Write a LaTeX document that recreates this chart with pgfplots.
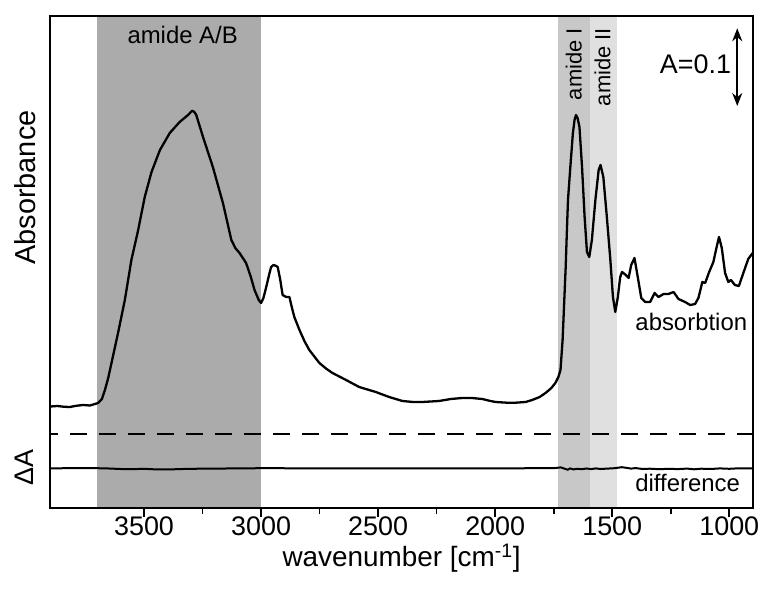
\documentclass[border=0pt]{standalone}
\usepackage{fontspec}
\setmainfont{Liberation Sans}
\usepackage{pgfplots}
\pgfplotsset{compat=1.18}
\usetikzlibrary{arrows.meta}
\definecolor{shadeAB}{gray}{0.671}
\definecolor{shadeI}{gray}{0.784}
\definecolor{shadeII}{gray}{0.878}

\begin{document}
\begin{tikzpicture}
\path[use as bounding box] (-50.4bp,-87bp) rectangle (715.6bp,508bp);
\begin{axis}[
  at={(0,0)}, anchor=south west,
  scale only axis, width=702.3bp, height=492bp,
  xmin=900, xmax=3900, x dir=reverse,
  ymin=0, ymax=492,
  xtick={1000,1500,2000,2500,3000,3500},
  minor x tick num=1,
  xtick pos=left, ytick=\empty,
  tick align=outside,
  major tick length=9bp, minor tick length=6bp,
  axis line style={line width=2bp},
  tick style={line width=1.6bp, black},
  axis on top,
  /pgf/number format/assume math mode=true,
  /pgf/number format/1000 sep={},
  xticklabel style={font=\fontsize{27}{30}\selectfont, yshift=4bp},
  xlabel={wavenumber [cm\textsuperscript{-1}]},
  xlabel style={font=\fontsize{28}{30}\selectfont, yshift=-2bp},
]
% shaded regions
\addplot[draw=none, fill=shadeAB] coordinates {(3700,0) (3700,492) (3000,492) (3000,0)} -- cycle;
\addplot[draw=none, fill=shadeI] coordinates {(1730,0) (1730,492) (1595,492) (1595,0)} -- cycle;
\addplot[draw=none, fill=shadeII] coordinates {(1595,0) (1595,492) (1480,492) (1480,0)} -- cycle;

% dashed separator
\addplot[black, line width=2bp, dash pattern=on 17bp off 12bp, dash phase=9bp] coordinates {(3900,73.7) (900,73.7)};

% difference spectrum
\addplot[black, line width=2bp] coordinates {
(3900,39.7) (3800,39.8) (3700,39.8) (3650,39.5) (3600,39.0) (3550,38.8) (3500,39.2) (3450,38.6) (3400,38.5) (3350,38.9) (3300,39.2) (3200,39.4) (3100,39.6) (3000,39.8) (2800,39.7) (2500,39.7) (2000,39.7) (1750,39.8) (1720,40.6) (1700,39.0) (1690,38.3) (1680,39.6) (1665,38.6) (1650,39.2) (1630,38.8) (1610,39.5) (1590,38.9) (1570,39.6) (1550,39.0) (1520,39.4) (1490,39.8) (1460,40.8) (1440,40.2) (1420,39.4) (1400,39.9) (1370,39.0) (1340,39.3) (1300,38.8) (1260,39.2) (1220,38.9) (1180,39.4) (1150,38.7) (1120,39.3) (1080,39.0) (1040,39.6) (1000,39.2) (960,39.7) (900,39.7)
};

% absorption spectrum
\addplot[black, line width=2.3bp, line join=round] coordinates {
(3900,101.5) (3870,102.0) (3840,101.2) (3816,101.0) (3790,102.2) (3761,103.0) (3731,102.5) (3710,104.0) (3696,105.0) (3680,109) (3667,118) (3653,130) (3639,145) (3611,175) (3582,208) (3554,248) (3525,278) (3497,311) (3468,336) (3432,358) (3390,375) (3348,386) (3312,393) (3300,396) (3294,397.3) (3285,396) (3277,393) (3248,371) (3206,341) (3163,305) (3127,268) (3110,260) (3092,255) (3064,245) (3045,232) (3028,218) (3010,208) (3000,205) (2990,210) (2978,221) (2965,234) (2957,241) (2947,243) (2935,242) (2929,241) (2918,228) (2908,213) (2893,211) (2879,211) (2870,202) (2858,191) (2836,178) (2815,167) (2794,158) (2751,145) (2720,139) (2695,135) (2637,128) (2581,121) (2510,116) (2453,111) (2396,107) (2350,106) (2311,106) (2240,107) (2190,109) (2141,110) (2100,110) (2055,109) (2020,107) (1998,106) (1950,105.3) (1913,105.3) (1870,106) (1842,108) (1810,111) (1785,115) (1760,120) (1743,125) (1730,131) (1721,138) (1712,168) (1703,218) (1699,240) (1694,275) (1689,308) (1679,341) (1668,375) (1661,388) (1655,393) (1648,390) (1640,381) (1629,341) (1618,291) (1608,256) (1598,251) (1587,268) (1572,308) (1558,338) (1550,343) (1538,331) (1523,291) (1508,248) (1497,211) (1487,196) (1476,211) (1466,231) (1458,236) (1442,233) (1430,230) (1419,243) (1405,250) (1391,231) (1376,210) (1359,206) (1338,206) (1319,215) (1302,211) (1281,214) (1260,214) (1238,216) (1217,209) (1189,206) (1167,203) (1146,204) (1132,210) (1115,226) (1103,225) (1086,236) (1068,246) (1054,261) (1044,271) (1032,260) (1018,235) (1004,226) (993,228) (976,223) (959,222) (940,235) (919,249) (900,255)
};

% annotations
\node[anchor=base, inner sep=0, font=\fontsize{24}{26}\selectfont] at (axis cs:3335,464) {amide A/B};
\node[rotate=90, anchor=base east, inner sep=0, font=\fontsize{22}{24}\selectfont] at (axis cs:1631,480) {amide I};
\node[rotate=90, anchor=base east, inner sep=0, font=\fontsize{22}{24}\selectfont] at (axis cs:1508,480) {amide II};
\node[anchor=base east, inner sep=0, font=\fontsize{27}{30}\selectfont] at (axis cs:992,434) {A=0.1};
\draw[{Stealth[length=13bp,width=10bp]}-{Stealth[length=13bp,width=10bp]}, line width=2bp] (axis cs:966,479.7) -- (axis cs:966,402);
\node[anchor=base east, inner sep=0, font=\fontsize{24}{26}\selectfont] at (axis cs:923,177) {absorbtion};
\node[anchor=base east, inner sep=0, font=\fontsize{24}{26}\selectfont] at (axis cs:954,16.5) {difference};
\end{axis}
\node[rotate=90, font=\fontsize{29}{30}\selectfont] at (-25.4bp,320.5bp) {Absorbance};
\node[rotate=90, font=\fontsize{27}{30}\selectfont] at (-26.4bp,40.5bp) {ΔA};
\end{tikzpicture}
\end{document}
